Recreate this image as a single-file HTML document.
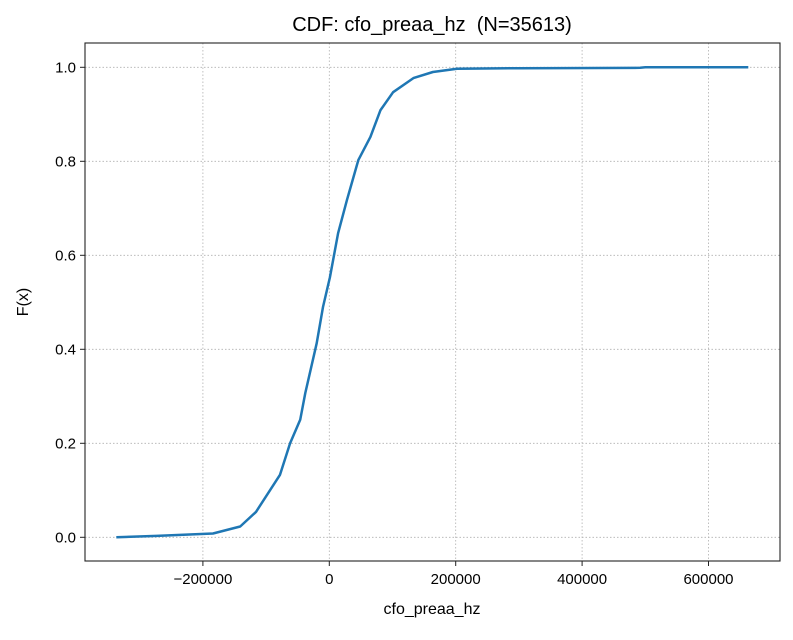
<!DOCTYPE html>
<html><head><meta charset="utf-8"><style>
body{margin:0;background:#fff;}
svg text{font-family:"Liberation Sans","DejaVu Sans",sans-serif;fill:#000;}
</style></head><body>
<svg width="793" height="635" id="chart">
<rect x="0" y="0" width="793" height="635" fill="#fff"/>
<g id="grid"></g>
<g id="ticks"></g>
<path id="curve" fill="none" stroke="#1f77b4" stroke-width="2.5" stroke-linejoin="round"/>
<rect x="85" y="43" width="695" height="518" fill="none" stroke="#222" stroke-width="1.1"/>
<text x="432" y="31" font-size="20" text-anchor="middle" style="white-space:pre">CDF: cfo_preaa_hz  (N=35613)</text>
<text x="432" y="614" font-size="16" text-anchor="middle">cfo_preaa_hz</text>
<text x="28" y="302" font-size="16" text-anchor="middle" transform="rotate(-90 28 302)">F(x)</text>
</svg>
<script>
const xValues=[-337000,-273000,-184000,-141000,-116000,-78000,-62000,-46000,-38000,-20000,-10000,1000,14000,28000,46000,65000,81000,101000,133000,164000,202000,300000,492000,500000,663000];
const cdfValues=[0,0.003,0.008,0.023,0.054,0.133,0.2,0.25,0.307,0.413,0.49,0.553,0.647,0.718,0.803,0.852,0.909,0.947,0.977,0.99,0.997,0.998,0.999,1.0,1.0];
const xTicks=[-200000,0,200000,400000,600000];
const xTickLabels=["\u2212200000","0","200000","400000","600000"];
const yTicks=[0,0.2,0.4,0.6,0.8,1.0];
const yTickLabels=["0.0","0.2","0.4","0.6","0.8","1.0"];
const X=v=>329.3+v/200000*126.4;
const Y=v=>537.3-v*470;
const NS="http://www.w3.org/2000/svg";
const grid=document.getElementById('grid'),ticks=document.getElementById('ticks');
function mk(tag,attrs,parent){const e=document.createElementNS(NS,tag);for(const k in attrs)e.setAttribute(k,attrs[k]);parent.appendChild(e);return e;}
xTicks.forEach((t,i)=>{const x=X(t);
 const g=mk('line',{x1:x,x2:x,y1:43,y2:561,stroke:'#b0b0b0','stroke-width':0.8,'stroke-dasharray':'1.5,2'},grid);
 
 
 const tk=mk('line',{x1:x,x2:x,y1:561,y2:566,stroke:'#222','stroke-width':1},ticks);
 
 
 const tx=mk('text',{x:x,y:584,'font-size':15,'text-anchor':'middle'},ticks);tx.textContent=xTickLabels[i];
 
 
});
yTicks.forEach((t,i)=>{const y=Y(t);
 const g=mk('line',{x1:85,x2:780,y1:y,y2:y,stroke:'#b0b0b0','stroke-width':0.8,'stroke-dasharray':'1.5,2'},grid);
 
 
 const tk=mk('line',{x1:80,x2:85,y1:y,y2:y,stroke:'#222','stroke-width':1},ticks);
 
 
 const tx=mk('text',{x:76,y:y+5,'font-size':15,'text-anchor':'end'},ticks);tx.textContent=yTickLabels[i];
 
 
});
document.getElementById('curve').setAttribute('d',xValues.map((v,i)=>(i?'L':'M')+X(v).toFixed(1)+','+Y(cdfValues[i]).toFixed(1)).join(''));
</script>
</body></html>
